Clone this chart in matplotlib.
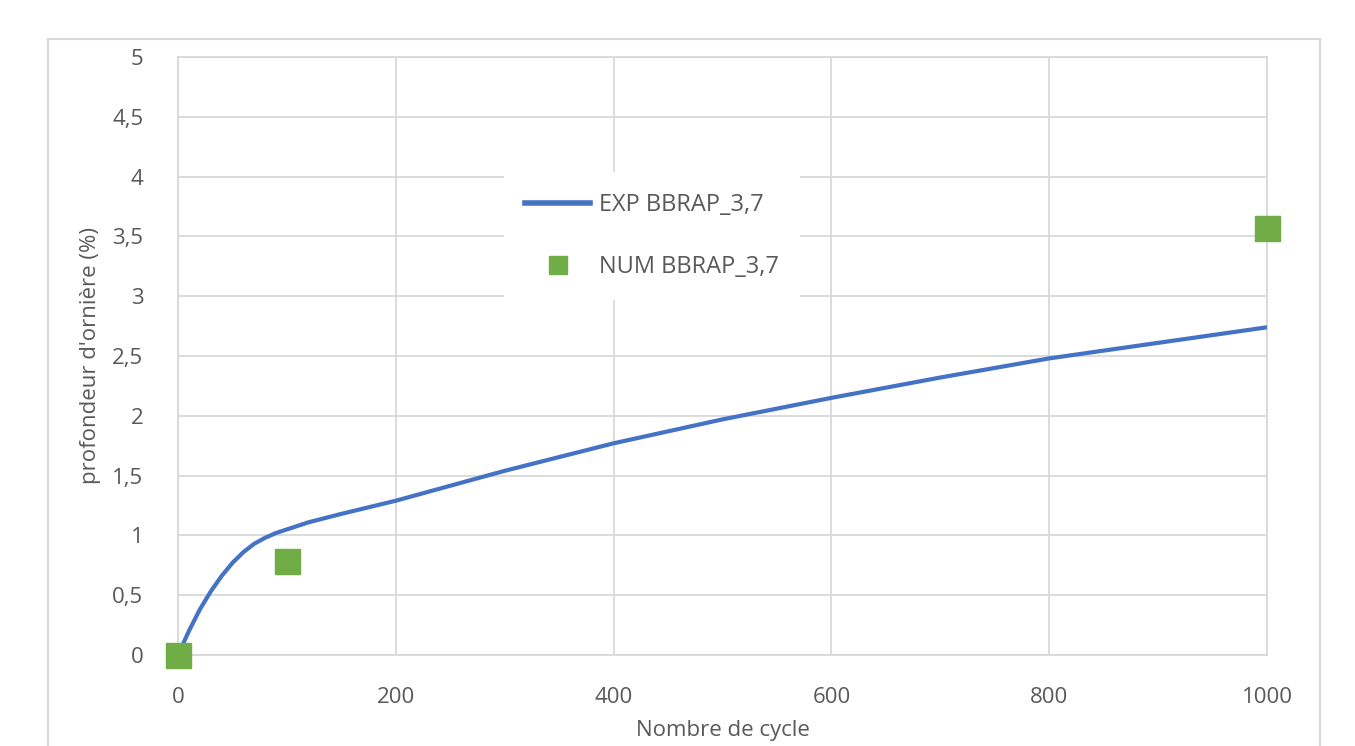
import matplotlib.pyplot as plt
from matplotlib.patches import Rectangle
from matplotlib.ticker import FuncFormatter

exp_x = [0, 10, 20, 30, 40, 50, 60, 70, 80, 90, 100, 120, 150, 200, 300, 400, 500, 600, 700, 800, 900, 1000]
exp_y = [0, 0.2, 0.38, 0.53, 0.66, 0.77, 0.86, 0.93, 0.98, 1.02, 1.05, 1.11, 1.18, 1.29, 1.54, 1.77, 1.97, 2.15, 2.32, 2.48, 2.61, 2.74]

# numerical points
num_x = [0, 100, 1000]
num_y = [0, 0.79, 3.57]

x_ticks = [0, 200, 400, 600, 800, 1000]
y_ticks = [0, 0.5, 1, 1.5, 2, 2.5, 3, 3.5, 4, 4.5, 5]

def comma_fmt(v, pos):
    s = f'{v:g}'
    return s.replace('.', ',')

plt.rcParams['font.family'] = ['Open Sans', 'DejaVu Sans']
fs = 16
grey = '#595959'

fig = plt.figure(figsize=(13.55, 7.46), dpi=100)
fig.patches.append(Rectangle((48 / 1355, -0.05), (1320 - 48) / 1355, 1.05 - 39 / 746,
                             transform=fig.transFigure, fill=False,
                             edgecolor='#d9d9d9', linewidth=1.5))

ax = fig.add_axes([178 / 1355, 1 - 655 / 746, (1267 - 178) / 1355, (655 - 57) / 746])

ax.plot(exp_x, exp_y, color='#4472C4', linewidth=3, label='EXP BBRAP_3,7', zorder=3,
        solid_joinstyle='round')
ax.plot(num_x, num_y, linestyle='none', marker='s', markersize=18,
        color='#70AD47', label='NUM BBRAP_3,7', zorder=4, clip_on=False)

ax.set_xlim(0, 1000)
ax.set_ylim(0, 5)
ax.set_xticks(x_ticks)
ax.set_yticks(y_ticks)
ax.yaxis.set_major_formatter(FuncFormatter(comma_fmt))
ax.grid(True, color='#d9d9d9', linewidth=1.3)
ax.set_axisbelow(True)
for s in ax.spines.values():
    s.set_color('#d9d9d9')
    s.set_linewidth(1.3)
ax.tick_params(length=0, labelsize=fs, labelcolor=grey)
ax.tick_params(axis='y', pad=25)
ax.tick_params(axis='x', pad=23)

ax.set_xlabel('Nombre de cycle', fontsize=fs, color=grey, labelpad=9)
ax.set_ylabel("profondeur d'ornière (%)", fontsize=fs, color=grey, labelpad=8)

leg = ax.legend(loc='center', bbox_to_anchor=(652 / 1355, 1 - 236 / 746),
                bbox_transform=fig.transFigure, fontsize=17, labelcolor=grey,
                handlelength=2.75, handletextpad=0.35, markerscale=0.7,
                labelspacing=1.6, borderpad=0.9, frameon=True, facecolor='white',
                edgecolor='none', framealpha=1, fancybox=False)
leg.get_lines()[0].set_linewidth(4)

fig.savefig('out.png', dpi=100)
